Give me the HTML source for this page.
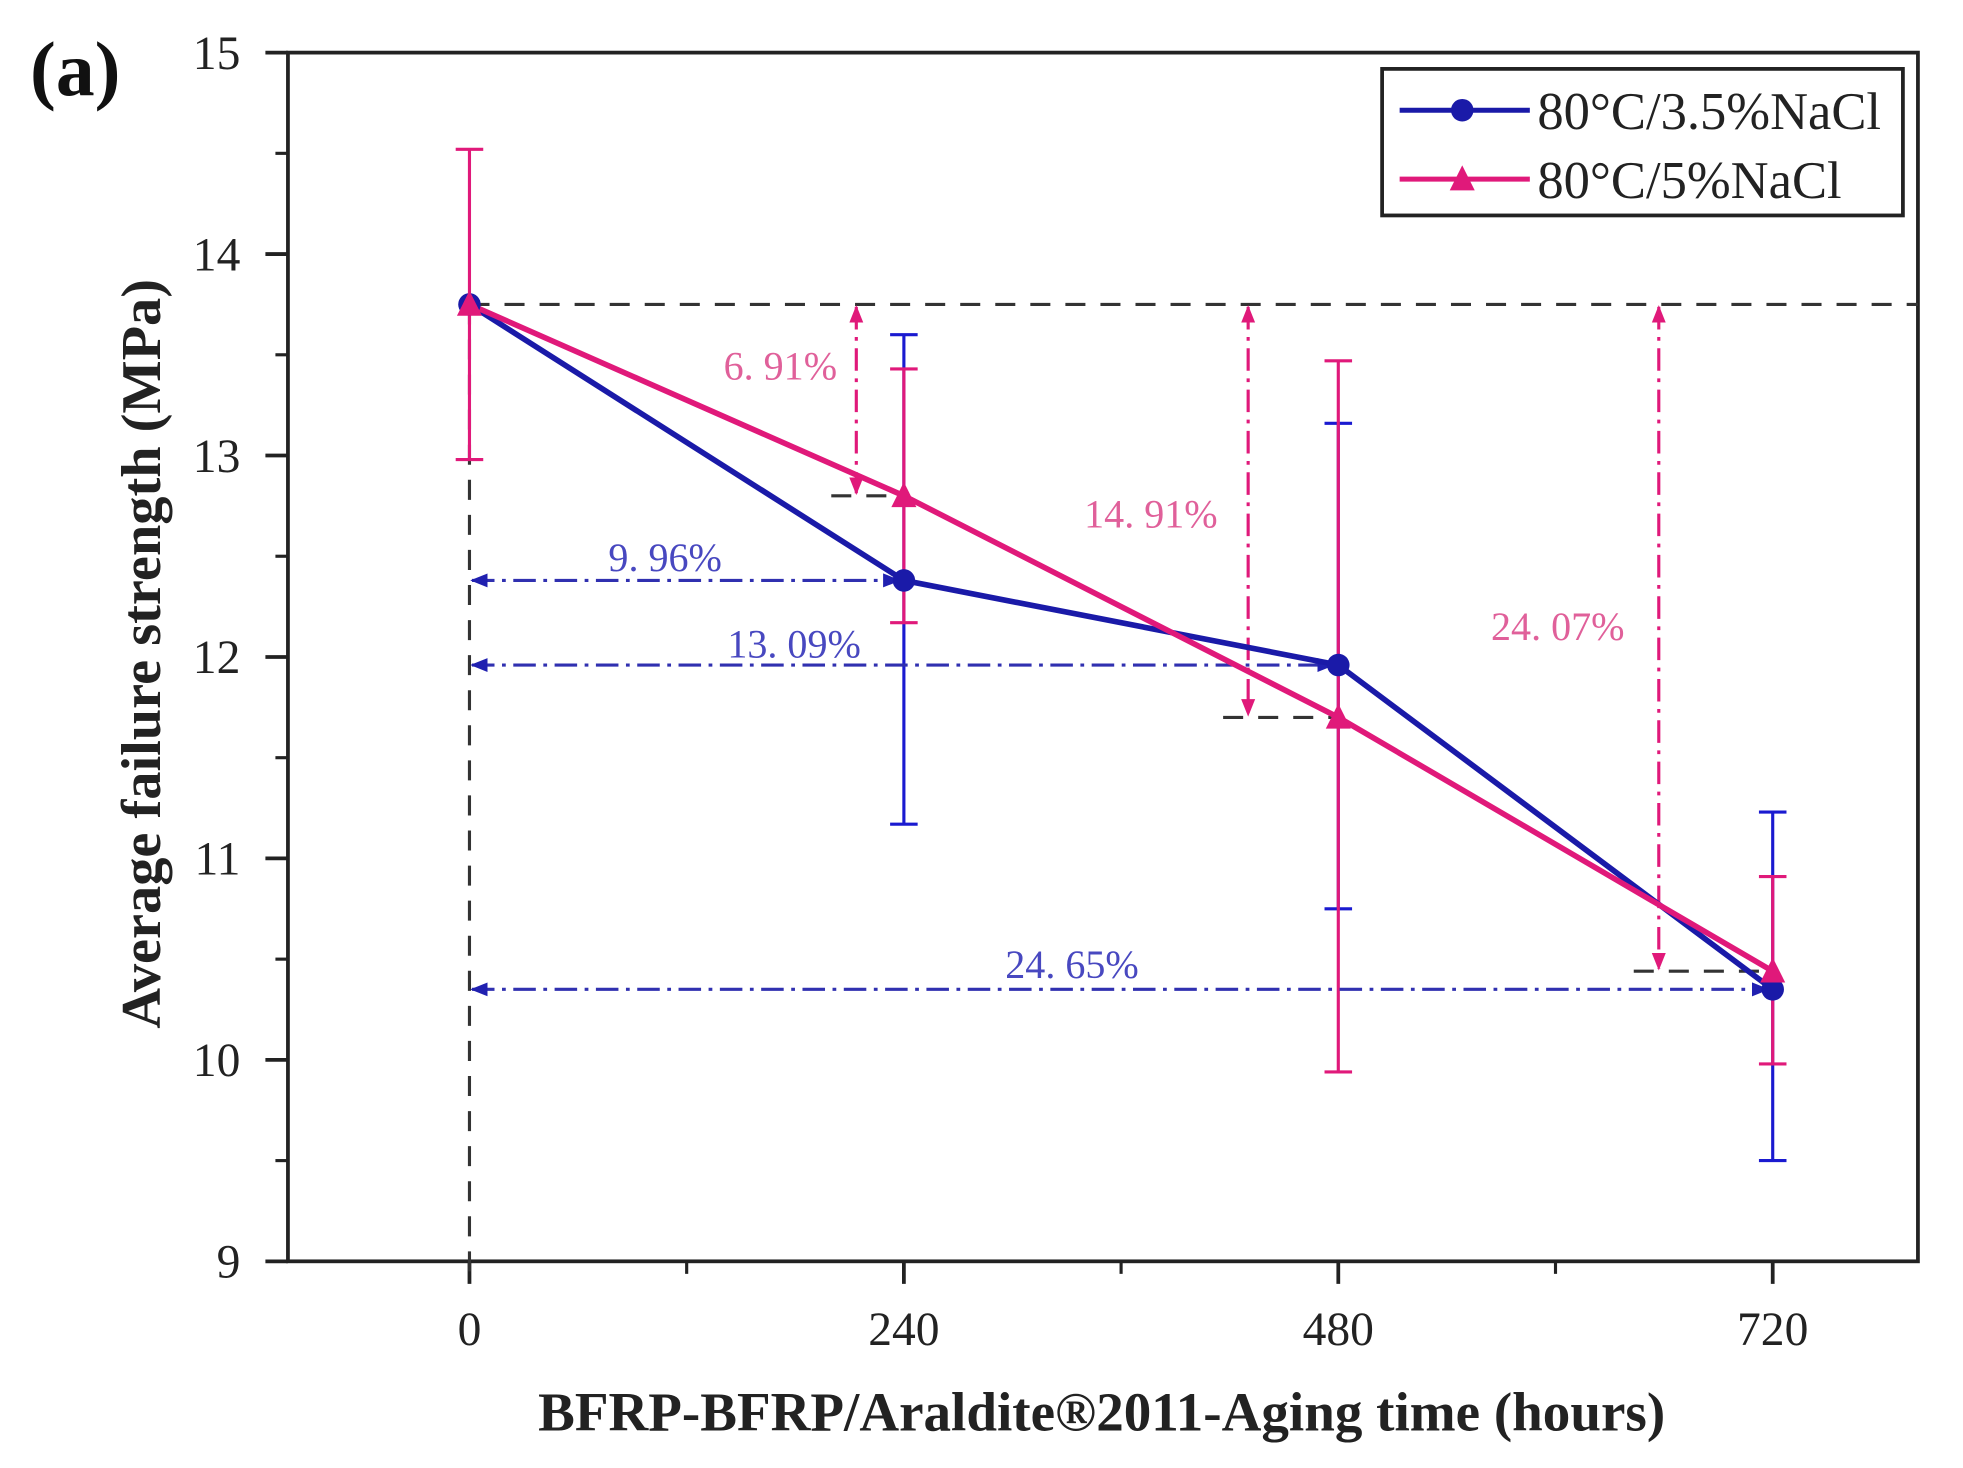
<!DOCTYPE html>
<html><head><meta charset="utf-8"><style>
html,body{margin:0;padding:0;background:#fff;}
svg{display:block;}
.tick{font-family:"Liberation Serif",serif;font-size:38px;fill:#222;}
.ann{font-family:"Liberation Serif","Noto Serif CJK SC",serif;font-size:32px;}
</style></head><body>
<svg id="chart" width="1963" height="1468" viewBox="0 0 1568 1172" preserveAspectRatio="none" xmlns="http://www.w3.org/2000/svg">
<defs>
<marker id="pa" viewBox="0 0 10 10" refX="9" refY="5" markerWidth="14" markerHeight="14" markerUnits="userSpaceOnUse" orient="auto-start-reverse"><path d="M0,1 L10,5 L0,9 z" fill="#e0197a"/></marker>
<marker id="ba" viewBox="0 0 10 10" refX="9" refY="5" markerWidth="14" markerHeight="14" markerUnits="userSpaceOnUse" orient="auto-start-reverse"><path d="M0,1 L10,5 L0,9 z" fill="#2020b0"/></marker>
</defs>
<text x="24" y="76" style="font-family:'Liberation Serif',serif;font-weight:bold;font-size:62px;fill:#111">(a)</text>
<g id="plot"></g>
<text transform="translate(128,522) rotate(-90)" text-anchor="middle" style="font-family:'Liberation Serif',serif;font-weight:bold;font-size:45px;fill:#222">Average failure strength (MPa)</text>
<text x="880" y="1142" text-anchor="middle" style="font-family:'Liberation Serif',serif;font-weight:bold;font-size:44px;fill:#222">BFRP-BFRP/Araldite®2011-Aging time (hours)</text>
<g>
<rect x="1104" y="55" width="416" height="117" fill="#fff" stroke="#222" stroke-width="3"/>
<line x1="1118" y1="88" x2="1222" y2="88" stroke="#1a1aa8" stroke-width="4"/>
<circle cx="1168" cy="88" r="9" fill="#1a1aa8"/>
<text x="1228" y="103" style="font-family:'Liberation Serif',serif;font-size:42px;fill:#222">80°C/3.5%NaCl</text>
<line x1="1118" y1="143" x2="1222" y2="143" stroke="#e0197a" stroke-width="4"/>
<path d="M1158,152 L1168,132 L1178,152 z" fill="#e0197a"/>
<text x="1228" y="158" style="font-family:'Liberation Serif',serif;font-size:42px;fill:#222">80°C/5%NaCl</text>
</g>
</svg>
<script>
const hours = [0, 240, 480, 720];
const blueVals = [13.75, 12.38, 11.96, 10.35];
const blueHi = [13.75, 13.6, 13.16, 11.23];
const blueLo = [13.75, 11.17, 10.75, 9.5];
const pinkVals = [13.75, 12.8, 11.7, 10.44];
const pinkHi = [14.52, 13.43, 13.47, 10.91];
const pinkLo = [12.98, 12.17, 9.94, 9.98];
const yTicks = [9, 10, 11, 12, 13, 14, 15];
const xTicks = [0, 240, 480, 720];
const pinkPct = ["6. 91%", "14. 91%", "24. 07%"];
const bluePct = ["9. 96%", "13. 09%", "24. 65%"];

const L=230,R=1532,T=42,B=1007;
const X = h => 375 + h*(1416-375)/720;
const Y = v => B - (v-9)*(B-T)/6;
const NS="http://www.w3.org/2000/svg";
const g=document.getElementById('plot');
function mk(tag,attrs,parent){const e=document.createElementNS(NS,tag);for(const k in attrs)e.setAttribute(k,attrs[k]);(parent||g).appendChild(e);return e;}

const frame=mk('rect',{x:L,y:T,width:R-L,height:B-T,fill:'none',stroke:'#222','stroke-width':3});


yTicks.forEach(v=>{
  const t=mk('line',{x1:L-18,x2:L,y1:Y(v),y2:Y(v),stroke:'#222','stroke-width':3});
  
  
  if(v<15){const m=mk('line',{x1:L-10,x2:L,y1:Y(v+0.5),y2:Y(v+0.5),stroke:'#222','stroke-width':2.5});
  
  }
  const tx=mk('text',{x:L-38,y:Y(v)+13,'text-anchor':'end',class:'tick'});tx.textContent=v;
  
  
});
xTicks.forEach((h,i)=>{
  const t=mk('line',{x1:X(h),x2:X(h),y1:B,y2:B+18,stroke:'#222','stroke-width':3});
  
  
  if(i<xTicks.length-1){const m=mk('line',{x1:X(h+120),x2:X(h+120),y1:B,y2:B+10,stroke:'#222','stroke-width':2.5});
  
  }
  const tx=mk('text',{x:X(h),y:1074,'text-anchor':'middle',class:'tick'});tx.textContent=h;
  
  
});

const dash={stroke:'#333','stroke-width':2.5,'stroke-dasharray':'16 12',fill:'none'};
let r=mk('line',Object.assign({x1:X(0),x2:R,y1:Y(blueVals[0]),y2:Y(blueVals[0])},dash));


r=mk('line',Object.assign({x1:X(0),x2:X(0),y1:Y(blueVals[0]),y2:B+20},dash));


const arrowXs=[684,997,1325];
for(let i=1;i<4;i++){
  const s=mk('line',Object.assign({x1:arrowXs[i-1]-20,x2:X(hours[i]),y1:Y(pinkVals[i]),y2:Y(pinkVals[i])},dash));
  
  
}

function err(vals,hi,lo,color,name){
  hours.forEach((h,i)=>{
    if(hi[i]===lo[i])return;
    const e=mk('path',{d:`M${X(h)},${Y(hi[i])}V${Y(lo[i])}M${X(h)-11},${Y(hi[i])}h22M${X(h)-11},${Y(lo[i])}h22`,stroke:color,'stroke-width':2.5,fill:'none'});
    
    
  });
}
err(blueVals,blueHi,blueLo,'#1a1ad0','blue-error-bar');
err(pinkVals,pinkHi,pinkLo,'#e0197a','pink-error-bar');

for(let i=1;i<4;i++){
  const a=mk('line',{x1:arrowXs[i-1],x2:arrowXs[i-1],y1:Y(pinkVals[0])+2,y2:Y(pinkVals[i])-2,stroke:'#e0197a','stroke-width':2.5,'stroke-dasharray':'18 6 3 6','marker-start':'url(#pa)','marker-end':'url(#pa)'});
  
  
  const b=mk('line',{x1:X(0)+2,x2:X(hours[i])-4,y1:Y(blueVals[i]),y2:Y(blueVals[i]),stroke:'#3030b0','stroke-width':2.5,'stroke-dasharray':'18 6 3 6','marker-start':'url(#ba)','marker-end':'url(#ba)'});
  
  
}
const pinkLab=[[578,303],[866,421],[1191,511]];
pinkPct.forEach((t,i)=>{const e=mk('text',{x:pinkLab[i][0],y:pinkLab[i][1],class:'ann',fill:'#e0609a'});e.textContent=t;
  
  });
const blueLab=[[486,456],[581,525],[803,781]];
bluePct.forEach((t,i)=>{const e=mk('text',{x:blueLab[i][0],y:blueLab[i][1],class:'ann',fill:'#4848c0'});e.textContent=t;
  
  });

const bl=mk('polyline',{points:hours.map((h,i)=>X(h)+','+Y(blueVals[i])).join(' '),fill:'none',stroke:'#1a1aa8','stroke-width':4.5});


const pl=mk('polyline',{points:hours.map((h,i)=>X(h)+','+Y(pinkVals[i])).join(' '),fill:'none',stroke:'#e0197a','stroke-width':4.5});


hours.forEach((h,i)=>{
  const c=mk('circle',{cx:X(h),cy:Y(blueVals[i]),r:9,fill:'#1a1aa8'});
  
  
  const x=X(h),y=Y(pinkVals[i]);
  const p=mk('path',{d:`M${x-10},${y+9}L${x},${y-11}L${x+10},${y+9}z`,fill:'#e0197a'});
  
  
});
</script>
</body></html>
